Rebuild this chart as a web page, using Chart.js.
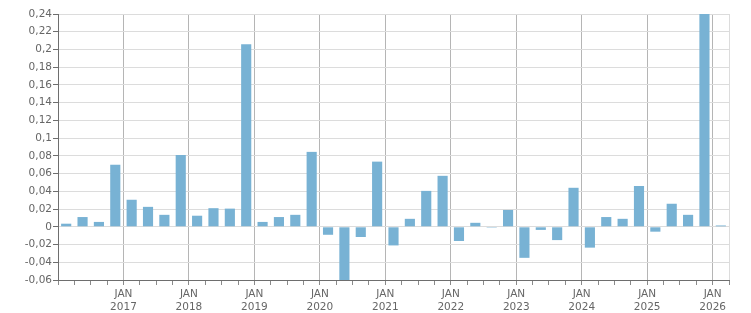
<!DOCTYPE html>
<html>
<head>
<meta charset="utf-8">
<script src="https://cdn.jsdelivr.net/npm/chart.js@4"></script>
<style>
html,body{margin:0;padding:0;background:#fff;}
#wrap{width:751px;height:313px;position:relative;}
</style>
</head>
<body>
<div id="wrap"><canvas id="c" width="751" height="313"></canvas></div>
<script>
const quarters = [
  "2016 Q1","2016 Q2","2016 Q3","2016 Q4",
  "2017 Q1","2017 Q2","2017 Q3","2017 Q4",
  "2018 Q1","2018 Q2","2018 Q3","2018 Q4",
  "2019 Q1","2019 Q2","2019 Q3","2019 Q4",
  "2020 Q1","2020 Q2","2020 Q3","2020 Q4",
  "2021 Q1","2021 Q2","2021 Q3","2021 Q4",
  "2022 Q1","2022 Q2","2022 Q3","2022 Q4",
  "2023 Q1","2023 Q2","2023 Q3","2023 Q4",
  "2024 Q1","2024 Q2","2024 Q3","2024 Q4",
  "2025 Q1","2025 Q2","2025 Q3","2025 Q4",
  "2026 Q1"
];
const values = [
  0.0035, 0.011, 0.0055, 0.070,
  0.0305, 0.0225, 0.0135, 0.081,
  0.0125, 0.021, 0.0205, 0.206,
  0.0055, 0.011, 0.0135, 0.0845,
  -0.009, -0.060, -0.0115, 0.0735,
  -0.021, 0.009, 0.0405, 0.0575,
  -0.016, 0.0045, -0.001, 0.019,
  -0.035, -0.0035, -0.015, 0.044,
  -0.0235, 0.011, 0.009, 0.046,
  -0.0055, 0.026, 0.0135, 0.240,
  0.0015
];
const yearLabels = ["2016","2017","2018","2019","2020","2021","2022","2023","2024","2025","2026"];
const monthLabel = "JAN";
const yMin = -0.06, yMax = 0.24, yStep = 0.02;

const points = values.map((v, i) => ({x: i + 0.5, y: v}));
const FONT = {family: "'DejaVu Sans', Verdana, sans-serif", size: 10.5, lineHeight: 1.2};

new Chart(document.getElementById('c'), {
  type: 'bar',
  data: {
    datasets: [{
      label: 'Values',
      data: points,
      backgroundColor: '#78b2d4',
      borderWidth: 0,
      barPercentage: 0.62,
      categoryPercentage: 1
    }]
  },
  options: {
    responsive: false,
    animation: false,
    devicePixelRatio: 1,
    layout: {padding: {top: 14, right: 22, left: 0, bottom: 0}},
    plugins: {legend: {display: false}, tooltip: {enabled: false}},
    scales: {
      x: {
        type: 'linear',
        min: 0,
        max: quarters.length,
        offset: false,
        afterBuildTicks: (s) => {
          s.ticks = [];
          for (let i = 0; i <= quarters.length; i++) s.ticks.push({value: i});
        },
        afterFit: (s) => { s.height = 33; },
        grid: {
          offset: false,
          drawOnChartArea: true,
          color: (ctx) => {
            const v = ctx.tick ? ctx.tick.value : 0;
            if (v === quarters.length) return '#dcdcdc';
            return (v % 4 === 0 && v > 0) ? '#b5b5b5' : 'rgba(0,0,0,0)';
          },
          tickColor: '#8a8a8a',
          tickLength: 5,
          lineWidth: 1
        },
        border: {display: true, color: '#6e6e6e', width: 1},
        ticks: {
          autoSkip: false,
          maxRotation: 0,
          minRotation: 0,
          padding: 3,
          color: '#666',
          font: FONT,
          callback: (v) => {
            if (v % 4 === 0 && v > 0 && v < quarters.length) {
              return [monthLabel, yearLabels[v / 4]];
            }
            return '';
          }
        }
      },
      y: {
        min: yMin,
        max: yMax,
        afterFit: (s) => { s.width = 58; },
        ticks: {
          stepSize: yStep,
          padding: 1,
          color: '#666',
          font: FONT,
          callback: (v) => String(Math.round(v * 100) / 100).replace('.', ',')
        },
        grid: {
          color: '#dcdcdc',
          tickColor: '#6e6e6e',
          tickLength: 5,
          lineWidth: 1
        },
        border: {display: true, color: '#6e6e6e', width: 1}
      }
    }
  }
});
</script>
</body>
</html>
